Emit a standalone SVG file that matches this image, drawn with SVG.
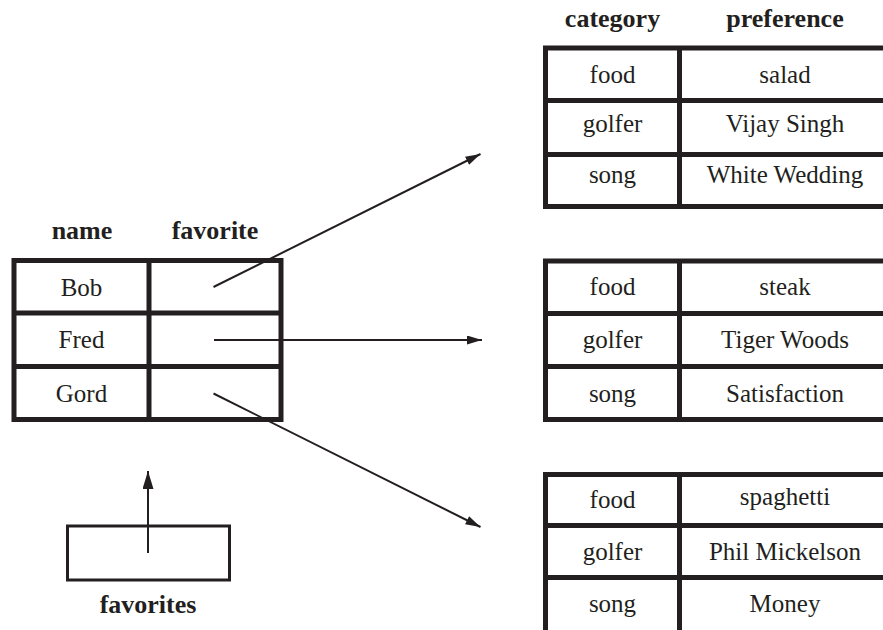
<svg xmlns="http://www.w3.org/2000/svg" width="883" height="630" viewBox="0 0 883 630">
<style>
.t{font-family:'Liberation Serif','Times New Roman',Tinos,'Noto Serif','Nimbus Roman','Nimbus Roman No9 L',FreeSerif,'DejaVu Serif',Times,serif;font-size:25px;fill:#231f20;text-anchor:middle}
.b{font-family:'Liberation Serif','Times New Roman',Tinos,'Noto Serif','Nimbus Roman','Nimbus Roman No9 L',FreeSerif,'DejaVu Serif',Times,serif;font-size:26px;font-weight:bold;fill:#231f20;text-anchor:middle}
.grid{fill:none;stroke:#231f20;stroke-width:5}
.conn{fill:none;stroke:#231f20;stroke-width:2}
</style>
<defs>
<marker id="ah" markerUnits="userSpaceOnUse" markerWidth="16" markerHeight="10" refX="15" refY="4.5" orient="auto">
<path d="M0,0 L15,4.5 L0,9 z" fill="#231f20"/>
</marker>
<marker id="ah2" markerUnits="userSpaceOnUse" markerWidth="19" markerHeight="12" refX="18" refY="5.5" orient="auto">
<path d="M0,0 L18,5.5 L0,11 z" fill="#231f20"/>
</marker>
</defs>
<rect width="883" height="630" fill="#ffffff"/>

<g id="names-table">
<text class="b" x="82" y="239">name</text>
<text class="b" x="215" y="239">favorite</text>
<rect class="grid" x="14" y="260.5" width="267" height="159"/>
<line class="grid" x1="149" y1="260.5" x2="149" y2="419.5"/>
<line class="grid" x1="14" y1="313" x2="281" y2="313"/>
<line class="grid" x1="14" y1="366.5" x2="281" y2="366.5"/>
<text class="t" x="81.5" y="296">Bob</text>
<text class="t" x="81.5" y="348">Fred</text>
<text class="t" x="81.5" y="402">Gord</text>
</g>

<g id="pref-table-1">
<text class="b" x="612.5" y="27">category</text>
<text class="b" x="785" y="27">preference</text>
<rect class="grid" x="545.5" y="48" width="345" height="158.5"/>
<line class="grid" x1="679.5" y1="48" x2="679.5" y2="206.5"/>
<line class="grid" x1="545.5" y1="100.5" x2="890" y2="100.5"/>
<line class="grid" x1="545.5" y1="154.5" x2="890" y2="154.5"/>
<text class="t" x="612.5" y="83">food</text>
<text class="t" x="785" y="83">salad</text>
<text class="t" x="612.5" y="132">golfer</text>
<text class="t" x="785" y="132">Vijay Singh</text>
<text class="t" x="612.5" y="183">song</text>
<text class="t" x="785" y="183">White Wedding</text>
</g>

<g id="pref-table-2">
<rect class="grid" x="545.5" y="261" width="345" height="158.5"/>
<line class="grid" x1="679.5" y1="261" x2="679.5" y2="419.5"/>
<line class="grid" x1="545.5" y1="313.5" x2="890" y2="313.5"/>
<line class="grid" x1="545.5" y1="366.5" x2="890" y2="366.5"/>
<text class="t" x="612.5" y="295">food</text>
<text class="t" x="785" y="295">steak</text>
<text class="t" x="612.5" y="348">golfer</text>
<text class="t" x="785" y="348">Tiger Woods</text>
<text class="t" x="612.5" y="402">song</text>
<text class="t" x="785" y="402">Satisfaction</text>
</g>

<g id="pref-table-3">
<rect class="grid" x="545.5" y="474.5" width="345" height="170"/>
<line class="grid" x1="679.5" y1="474.5" x2="679.5" y2="640"/>
<line class="grid" x1="545.5" y1="525.5" x2="890" y2="525.5"/>
<line class="grid" x1="545.5" y1="577.5" x2="890" y2="577.5"/>
<text class="t" x="612.5" y="508">food</text>
<text class="t" x="785" y="505">spaghetti</text>
<text class="t" x="612.5" y="560">golfer</text>
<text class="t" x="785" y="560">Phil Mickelson</text>
<text class="t" x="612.5" y="612">song</text>
<text class="t" x="785" y="612">Money</text>
</g>

<g id="favorites">
<rect x="67.5" y="526" width="162" height="54" fill="none" stroke="#231f20" stroke-width="3"/>
<text class="b" x="148" y="613">favorites</text>
</g>

<g id="connectors">
<line class="conn" x1="213.5" y1="287" x2="480.5" y2="154" marker-end="url(#ah)"/>
<line class="conn" x1="214" y1="340" x2="482" y2="340" marker-end="url(#ah)"/>
<line class="conn" x1="213.5" y1="393.5" x2="480.5" y2="527" marker-end="url(#ah)"/>
<line class="conn" x1="148" y1="553" x2="148" y2="471" stroke-width="3" marker-end="url(#ah2)"/>
</g>
</svg>
